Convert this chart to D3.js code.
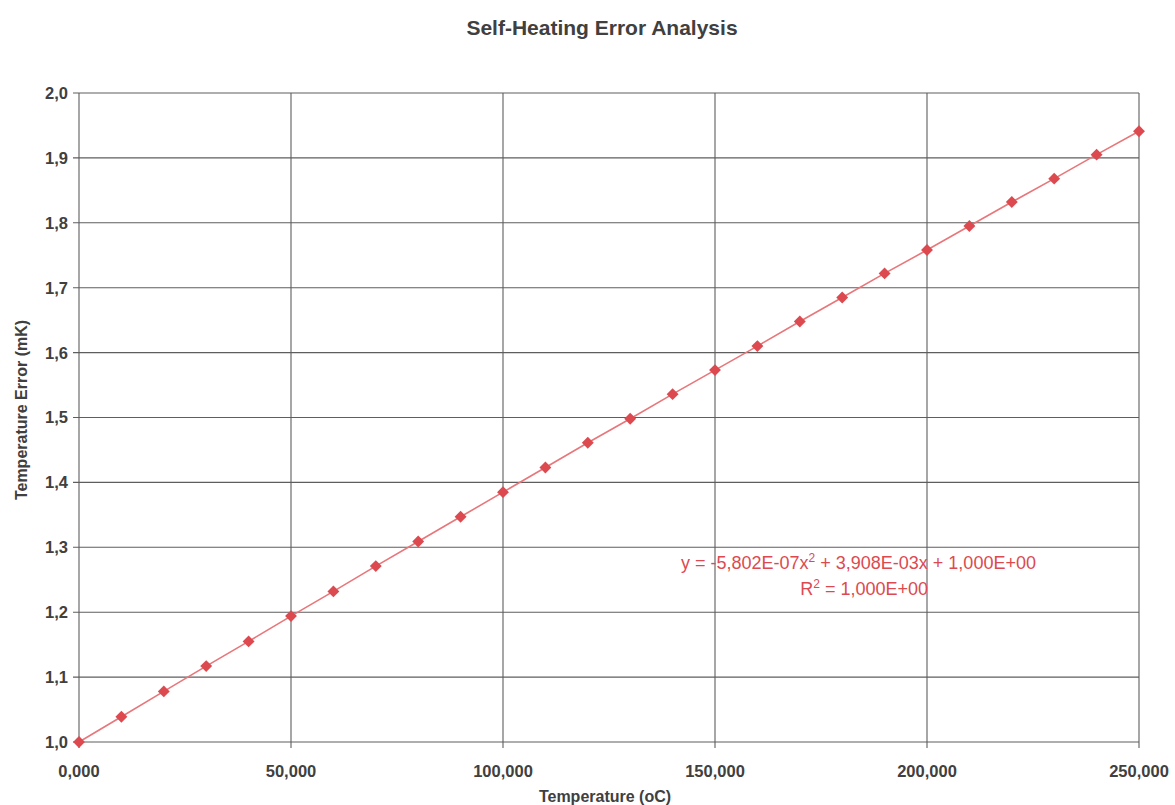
<!DOCTYPE html>
<html><head><meta charset="utf-8">
<script src="https://cdn.jsdelivr.net/npm/d3@7"></script>
<style>
body{margin:0;background:#fff;}
text{font-family:"Liberation Sans",Arial,sans-serif;}
</style></head>
<body>
<svg id="c" width="1175" height="805"></svg>
<script>
const temperatures = [0,10,20,30,40,50,60,70,80,90,100,110,120,130,140,150,160,170,180,190,200,210,220,230,240,250];
const errors = [1.000,1.039,1.078,1.117,1.155,1.194,1.232,1.271,1.309,1.347,1.385,1.423,1.461,1.498,1.536,1.573,1.610,1.648,1.685,1.722,1.758,1.795,1.832,1.868,1.905,1.941];
const xTicks = [0,50,100,150,200,250];
const yTicks = [1.0,1.1,1.2,1.3,1.4,1.5,1.6,1.7,1.8,1.9,2.0];
const titleText = "Self-Heating Error Analysis";
const xTitle = "Temperature (oC)";
const yTitle = "Temperature Error (mK)";

const svg = d3.select("#c");
const m = {left:79, right:1139, top:93, bottom:742};
const x = d3.scaleLinear().domain([0,250]).range([m.left,m.right]);
const y = d3.scaleLinear().domain([1,2]).range([m.bottom,m.top]);
const gridCol = "#5e5e5e", textCol = "#404040", red = "#dc4a50", lineRed = "#e8767a";
const fmtY = v => d3.format(".1f")(v).replace(".",",");
const fmtX = v => d3.format(".3f")(v).replace(".",",");

// grid
svg.append("g").selectAll("line").data(yTicks).join("line")
  .attr("x1",m.left-6).attr("x2",m.right).attr("y1",d=>y(d)).attr("y2",d=>y(d))
  .attr("stroke",gridCol).attr("stroke-width",1.1);
svg.append("g").selectAll("line").data(xTicks).join("line")
  .attr("x1",d=>x(d)).attr("x2",d=>x(d)).attr("y1",m.top).attr("y2",m.bottom+6)
  .attr("stroke",gridCol).attr("stroke-width",1.1);

// tick labels
svg.append("g").selectAll("text").data(yTicks).join("text")
  .attr("x",m.left-11).attr("y",d=>y(d)).attr("dy","0.36em").attr("text-anchor","end")
  .attr("font-size",16.5).attr("font-weight","bold").attr("fill",textCol).text(fmtY);
svg.append("g").selectAll("text").data(xTicks).join("text")
  .attr("x",d=>x(d)).attr("y",m.bottom+35).attr("text-anchor","middle")
  .attr("font-size",16.5).attr("font-weight","bold").attr("fill",textCol)
  .text(fmtX);

// titles
svg.append("text").attr("x",602).attr("y",35).attr("text-anchor","middle")
  .attr("font-size",21).attr("font-weight","bold").attr("fill",textCol).text(titleText);
svg.append("text").attr("x",605).attr("y",802).attr("text-anchor","middle")
  .attr("font-size",16).attr("font-weight","bold").attr("fill",textCol).text(xTitle);
svg.append("text").attr("transform",`translate(27,410) rotate(-90)`).attr("text-anchor","middle")
  .attr("font-size",16).attr("font-weight","bold").attr("fill",textCol).text(yTitle);

// line
const pts = temperatures.map((t,i)=>[t,errors[i]]);
svg.append("path").datum(pts)
  .attr("d",d3.line().x(d=>x(d[0])).y(d=>y(d[1])))
  .attr("fill","none").attr("stroke",lineRed).attr("stroke-width",1.6);
// points
svg.append("g").selectAll("path").data(pts).join("path")
  .attr("transform",d=>`translate(${x(d[0])},${y(d[1])})`)
  .attr("d",d3.symbol(d3.symbolDiamond2,90)())
  .attr("fill",red);

// equation
const eq = svg.append("text").attr("x",681).attr("y",569).attr("font-size",18).attr("fill",red);
eq.append("tspan").text("y = -5,802E-07x");
eq.append("tspan").attr("dy",-7).attr("font-size",12).text("2");
eq.append("tspan").attr("dy",7).text(" + 3,908E-03x + 1,000E+00");
const r2 = svg.append("text").attr("x",928).attr("y",595).attr("text-anchor","end").attr("font-size",18).attr("fill",red);
r2.append("tspan").text("R");
r2.append("tspan").attr("dy",-7).attr("font-size",12).text("2");
r2.append("tspan").attr("dy",7).text(" = 1,000E+00");
</script>
</body></html>
